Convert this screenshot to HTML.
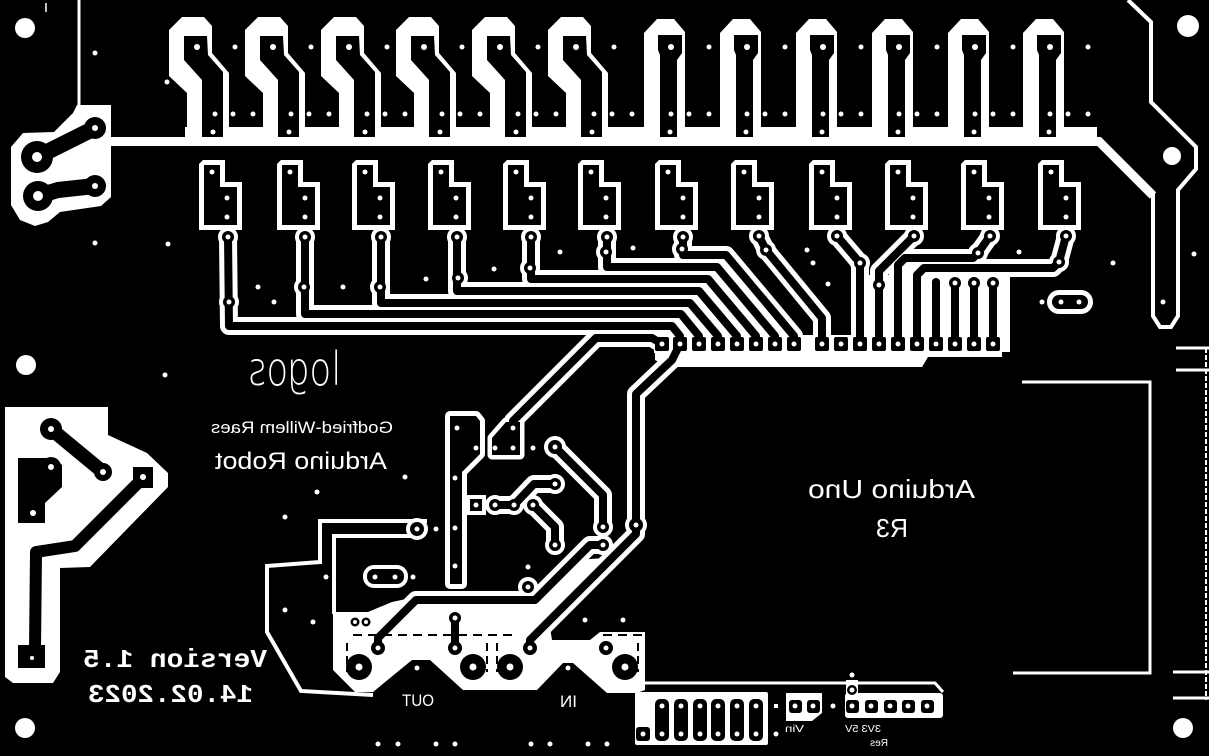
<!DOCTYPE html>
<html><head><meta charset="utf-8"><style>
html,body{margin:0;padding:0;background:#000;width:1209px;height:756px;overflow:hidden}
svg{display:block}
text{font-family:"Liberation Sans",Arial,sans-serif;fill:#fff}
.mono{font-family:"Liberation Mono","DejaVu Sans Mono",monospace;font-weight:bold}
</style></head><body>
<svg width="1209" height="756" viewBox="0 0 1209 756" xmlns="http://www.w3.org/2000/svg">
<defs>
<g id="tl">
<polygon fill="#fff" points="-28,30 -15,17 7,17 15,26 15,53 32,73 32,137 -10,137 -10,93 -28,76"/>
<polygon fill="#000" points="-13,36 10,36 11,55 26,72 26,137 5,137 5,80 -13,60"/>
<g fill="#fff"><circle cx="0" cy="47" r="3"/><circle cx="18" cy="114" r="2.5"/><circle cx="16" cy="132" r="2.5"/><circle cx="36" cy="114" r="2.5"/><circle cx="56" cy="114" r="2.5"/><circle cx="38" cy="47" r="2.5"/></g>
</g>
<g id="tr">
<polygon fill="#fff" points="-27,33 -14,19 3,19 14,32 14,137 -27,137"/>
<polygon fill="#000" points="-13,35 11,35 11,53 6,60 6,137 -11,137 -11,55 -13,50"/>
<g fill="#fff"><circle cx="0" cy="47" r="3"/><circle cx="0" cy="114" r="2.5"/><circle cx="-1" cy="132" r="2.5"/><circle cx="18" cy="114" r="2.5"/><circle cx="38" cy="114" r="2.5"/><circle cx="38" cy="47" r="2.5"/></g>
</g>
<g id="sm">
<polygon fill="#fff" points="-13,164 -9,160 13,160 13,182 30,182 30,230 -13,230"/>
<polygon fill="#000" points="-8,165 8,165 8,187 25,187 25,225 -8,225"/>
<g fill="#fff"><circle cx="0" cy="172" r="2.5"/><circle cx="15" cy="198" r="2.5"/><circle cx="15" cy="217" r="2.5"/></g>
</g>
<g id="trs" fill="none" stroke-linecap="round" stroke-linejoin="round">
<polyline points="228,237 229,326 672,326 680,336 680,344"/>
<polyline points="305,237 305,314 681,314 699,336 699,344"/>
<polyline points="381,237 381,303 690,303 718,336 718,344"/>
<polyline points="457,237 457,291 699,291 737,336 737,344"/>
<polyline points="531,237 531,279 708,279 756,336 756,344"/>
<polyline points="607,237 607,267 717,267 775,336 775,344"/>
<polyline points="683,237 683,255 726,255 794,336 794,344"/>
<polyline points="759,236 766,250 822,318 822,344"/>
<polyline points="837,236 860,263 860,344"/>
<polyline points="914,236 879,271 879,344"/>
<polyline points="990,236 978,253 973,258 905,258 898,265 898,344"/>
<polyline points="1066,236 1059,262 1053,268 924,268 917,275 917,344"/>
<polyline points="936,282 936,344"/>
<polyline points="955,283 955,344"/>
<polyline points="974,283 974,344"/>
<polyline points="993,283 993,344"/>
<polyline points="662,344 652,338 596,338 513,421 513,428"/>
<polyline points="680,344 672,360 636,394 636,525"/>
<polyline points="555,447 603,495 603,527"/>
<polyline points="378,648 378,638 416,600 535,600 575,560 590,545 603,545"/>
<polyline points="530,648 530,640 615,555 636,534 636,525"/>
<polyline points="533,505 555,527 555,544"/>
<polyline points="495,505 514,505 534,484 555,484"/>
<polyline points="455,618 455,648"/>
</g>
<g id="pds">
<circle cx="228" cy="237" r="6"/><circle cx="305" cy="237" r="6"/><circle cx="381" cy="237" r="6"/><circle cx="457" cy="237" r="6"/><circle cx="531" cy="237" r="6"/><circle cx="607" cy="237" r="6"/><circle cx="683" cy="237" r="6"/><circle cx="759" cy="236" r="6"/><circle cx="837" cy="236" r="6"/><circle cx="914" cy="236" r="6"/><circle cx="990" cy="236" r="6"/><circle cx="1066" cy="236" r="6"/>
<circle cx="229" cy="302" r="6"/><circle cx="304" cy="287" r="6"/><circle cx="380" cy="287" r="6"/><circle cx="458" cy="278" r="6"/><circle cx="530" cy="268" r="6"/><circle cx="606" cy="252" r="6"/><circle cx="682" cy="249" r="6"/><circle cx="766" cy="250" r="6"/><circle cx="860" cy="263" r="6"/><circle cx="879" cy="285" r="6"/><circle cx="978" cy="253" r="6"/><circle cx="1059" cy="262" r="6"/>
<circle cx="955" cy="283" r="6"/><circle cx="974" cy="283" r="6"/><circle cx="993" cy="283" r="6"/>
<circle cx="555" cy="447" r="7"/><circle cx="555" cy="484" r="6"/><circle cx="533" cy="505" r="6"/><circle cx="514" cy="505" r="6"/><circle cx="495" cy="505" r="6"/><circle cx="555" cy="545" r="6"/>
<circle cx="417" cy="529" r="7"/><circle cx="528" cy="587" r="6"/><circle cx="603" cy="527" r="6"/><circle cx="603" cy="545" r="6"/><circle cx="636" cy="525" r="7"/>
<circle cx="455" cy="618" r="6"/><circle cx="378" cy="648" r="7"/><circle cx="455" cy="648" r="7"/><circle cx="530" cy="648" r="7"/><circle cx="606" cy="648" r="7"/>
<circle cx="359" cy="667" r="13"/><circle cx="473" cy="667" r="13"/><circle cx="510" cy="667" r="13"/><circle cx="625" cy="667" r="13"/>
<circle cx="355" cy="622" r="4.5"/><circle cx="366" cy="622" r="4.5"/>
<rect x="470" y="499" width="12" height="12"/>
</g>
<polygon id="cpoly" points="450,416 476,416 480,421 480,454 462,472 462,584 450,584"/>
<polygon id="apoly" points="492,438 506,422 520,422 520,455 492,455"/>
</defs>

<rect width="1209" height="756" fill="#000"/>

<!-- ===== white areas ===== -->
<line x1="79" y1="0" x2="79" y2="108" stroke="#fff" stroke-width="3"/>
<line x1="46" y1="3" x2="46" y2="12" stroke="#fff" stroke-width="1.5"/>
<polygon fill="#fff" points="77,105 111,105 111,197 101,206 60,212 48,222 35,226 20,220 11,205 11,147 23,133 54,132 73,113"/>
<rect x="185" y="127" width="912" height="11" fill="#fff"/>
<use href="#tl" x="197"/><use href="#tl" x="273"/><use href="#tl" x="349"/><use href="#tl" x="424"/><use href="#tl" x="500"/><use href="#tl" x="576"/>
<use href="#tr" x="671"/><use href="#tr" x="747"/><use href="#tr" x="823"/><use href="#tr" x="899"/><use href="#tr" x="975"/><use href="#tr" x="1050"/>
<polyline points="105,141.5 1099,141.5 1153,195.5" fill="none" stroke="#fff" stroke-width="9"/>
<polyline points="1153,193 1153,316 1160,327 1171,327 1178,316 1178,190 1196,169 1196,147 1151,102 1151,22 1128,0" fill="none" stroke="#fff" stroke-width="4"/>
<use href="#sm" x="212"/><use href="#sm" x="290"/><use href="#sm" x="365"/><use href="#sm" x="441"/><use href="#sm" x="516"/><use href="#sm" x="591"/>
<use href="#sm" x="668"/><use href="#sm" x="744"/><use href="#sm" x="822"/><use href="#sm" x="898"/><use href="#sm" x="974"/><use href="#sm" x="1051"/>

<polygon fill="#fff" points="5,407 108,407 108,435 147,453 168,473 168,487 90,567 60,568 60,672 53,683 13,683 5,677"/>

<rect x="654" y="335" width="348" height="18" fill="#fff"/>
<polygon fill="#fff" points="655,352 1002,352 1002,357 928,357 922,367 668,367 655,360"/>
<rect x="903" y="262" width="107" height="90" fill="#fff"/>
<rect x="852" y="275" width="51" height="77" fill="#fff"/>

<rect x="1047" y="290" width="46" height="24" rx="12" fill="#fff"/>
<rect x="1052" y="295" width="36" height="14" rx="7" fill="#000"/>

<polygon fill="#fff" points="333,612 368,612 392,602 420,596 540,596 576,560 605,558 548,615 552,640 590,640 600,632 645,632 645,690 637,693 607,693 573,663 563,663 537,690 463,690 430,660 412,660 373,692 355,692 333,670"/>
<polyline points="427,521 320,521 320,562 267,566 267,632 301,691 373,695" fill="none" stroke="#fff" stroke-width="4"/>
<polyline points="418,536 334,536 334,614" fill="none" stroke="#fff" stroke-width="4"/>
<rect x="363" y="565" width="45" height="23" rx="11" fill="#fff"/>
<rect x="367" y="569" width="37" height="15" rx="7" fill="#000"/>

<polyline points="637,683 935,683 943,692" fill="none" stroke="#fff" stroke-width="3"/>
<rect x="635" y="692" width="133" height="53" rx="2" fill="#fff"/>
<polygon fill="#fff" points="786,693 822,693 822,713 812,721 786,721"/>
<rect x="845" y="693" width="98" height="25" rx="3" fill="#fff"/>
<rect x="846" y="680" width="12" height="15" fill="#fff"/>

<polyline points="1022,382 1150,382 1150,673 1013,673" fill="none" stroke="#fff" stroke-width="3"/>
<g stroke="#fff" stroke-width="3">
<line x1="1176" y1="348" x2="1209" y2="348"/><line x1="1176" y1="370" x2="1209" y2="370"/>
<line x1="1173" y1="672" x2="1209" y2="672"/><line x1="1173" y1="698" x2="1209" y2="698"/>
</g>
<line x1="1206" y1="348" x2="1206" y2="700" stroke="#fff" stroke-width="2" stroke-dasharray="5,2"/>

<!-- ===== halos ===== -->
<use href="#trs" stroke="#fff" stroke-width="18"/>
<use href="#cpoly" fill="#fff" stroke="#fff" stroke-width="10" stroke-linejoin="round"/>
<use href="#apoly" fill="#fff" stroke="#fff" stroke-width="9" stroke-linejoin="round"/>
<use href="#pds" fill="#fff" stroke="#fff" stroke-width="8"/>

<!-- ===== black copper ===== -->
<use href="#trs" stroke="#000" stroke-width="8"/>
<use href="#cpoly" fill="#000"/>
<use href="#apoly" fill="#000"/>
<use href="#pds" fill="#000"/>

<g fill="#000">
<rect x="655" y="337" width="14" height="14" rx="2"/><rect x="673" y="337" width="14" height="14" rx="2"/><rect x="692" y="337" width="14" height="14" rx="2"/><rect x="711" y="337" width="14" height="14" rx="2"/><rect x="730" y="337" width="14" height="14" rx="2"/><rect x="749" y="337" width="14" height="14" rx="2"/><rect x="768" y="337" width="14" height="14" rx="2"/><rect x="787" y="337" width="14" height="14" rx="2"/>
<rect x="815" y="337" width="14" height="14" rx="2"/><rect x="834" y="337" width="14" height="14" rx="2"/><rect x="853" y="337" width="14" height="14" rx="2"/><rect x="872" y="337" width="14" height="14" rx="2"/><rect x="891" y="337" width="14" height="14" rx="2"/><rect x="910" y="337" width="14" height="14" rx="2"/><rect x="929" y="337" width="14" height="14" rx="2"/><rect x="948" y="337" width="14" height="14" rx="2"/><rect x="967" y="337" width="14" height="14" rx="2"/><rect x="986" y="337" width="14" height="14" rx="2"/>
<!-- bottom header -->
<rect x="655" y="699" width="14" height="42" rx="5"/><rect x="674" y="699" width="14" height="42" rx="5"/><rect x="693" y="699" width="14" height="42" rx="5"/><rect x="711" y="699" width="14" height="42" rx="5"/><rect x="730" y="699" width="14" height="42" rx="5"/><rect x="749" y="699" width="14" height="42" rx="5"/>
<rect x="636" y="727" width="14" height="14" rx="3"/>
<rect x="789" y="700" width="13" height="13" rx="3"/><rect x="807" y="700" width="13" height="13" rx="3"/>
<rect x="846" y="700" width="13" height="13" rx="3"/><rect x="865" y="700" width="13" height="13" rx="3"/><rect x="884" y="700" width="13" height="13" rx="3"/><rect x="902" y="700" width="13" height="13" rx="3"/><rect x="921" y="700" width="13" height="13" rx="3"/>
<circle cx="852" cy="690" r="5"/>
<!-- top-left dogbones -->
<circle cx="37" cy="157" r="16"/><circle cx="95" cy="128" r="11"/>
<circle cx="38" cy="196" r="15"/><circle cx="95" cy="186" r="11"/>
<!-- lower-left -->
<circle cx="51" cy="429" r="11"/><circle cx="103" cy="472" r="9"/>
<polygon points="18,458 55,458 62,465 62,487 45,503 45,523 18,523"/>
<circle cx="51" cy="467" r="10"/>
<rect x="133" y="467" width="20" height="21"/>
<rect x="18" y="645" width="27" height="23"/>
</g>
<line x1="37" y1="157" x2="95" y2="128" stroke="#000" stroke-width="16" stroke-linecap="round"/>
<polyline points="38,196 58,190 95,186" fill="none" stroke="#000" stroke-width="16" stroke-linecap="round" stroke-linejoin="round"/>
<line x1="51" y1="429" x2="103" y2="472" stroke="#000" stroke-width="14" stroke-linecap="round"/>
<polyline points="143,478 75,546 36,552 35,650" fill="none" stroke="#000" stroke-width="12" stroke-linejoin="round"/>

<!-- silkscreen dashes on band -->
<g stroke="#000" stroke-width="2">
<line x1="353" y1="635" x2="517" y2="635" stroke-dasharray="9,6"/>
<line x1="603" y1="635" x2="643" y2="635" stroke-dasharray="9,6"/>
<line x1="347" y1="643" x2="347" y2="672" stroke-dasharray="8,5"/>
<line x1="487" y1="643" x2="487" y2="672" stroke-dasharray="8,5"/>
<line x1="497" y1="643" x2="497" y2="672" stroke-dasharray="8,5"/>
<line x1="638" y1="643" x2="638" y2="672" stroke-dasharray="8,5"/>
</g>

<!-- ===== drills & ground dots ===== -->
<g fill="#fff">
<circle cx="228" cy="237" r="2.5"/><circle cx="305" cy="237" r="2.5"/><circle cx="381" cy="237" r="2.5"/><circle cx="457" cy="237" r="2.5"/><circle cx="531" cy="237" r="2.5"/><circle cx="607" cy="237" r="2.5"/><circle cx="683" cy="237" r="2.5"/><circle cx="759" cy="236" r="2.5"/><circle cx="837" cy="236" r="2.5"/><circle cx="914" cy="236" r="2.5"/><circle cx="990" cy="236" r="2.5"/><circle cx="1066" cy="236" r="2.5"/>
<circle cx="229" cy="302" r="2.5"/><circle cx="304" cy="287" r="2.5"/><circle cx="380" cy="287" r="2.5"/><circle cx="458" cy="278" r="2.5"/><circle cx="530" cy="268" r="2.5"/><circle cx="606" cy="252" r="2.5"/><circle cx="682" cy="249" r="2.5"/><circle cx="766" cy="250" r="2.5"/><circle cx="860" cy="263" r="2.5"/><circle cx="879" cy="285" r="2.5"/><circle cx="978" cy="253" r="2.5"/><circle cx="1059" cy="262" r="2.5"/>
<circle cx="955" cy="283" r="2.5"/><circle cx="974" cy="283" r="2.5"/><circle cx="993" cy="283" r="2.5"/>
<circle cx="513" cy="428" r="2.5"/><circle cx="513" cy="448" r="2.5"/><circle cx="495" cy="448" r="2.5"/><circle cx="555" cy="447" r="2.5"/><circle cx="555" cy="484" r="2.5"/><circle cx="533" cy="505" r="2.5"/><circle cx="514" cy="505" r="2.5"/><circle cx="495" cy="505" r="2.5"/><circle cx="476" cy="505" r="2.5"/><circle cx="555" cy="545" r="2.5"/>
<circle cx="457" cy="428" r="2.5"/><circle cx="476" cy="448" r="2.5"/><circle cx="455" cy="478" r="2.5"/><circle cx="455" cy="528" r="2.5"/><circle cx="455" cy="566" r="2.5"/><circle cx="417" cy="529" r="2.5"/><circle cx="528" cy="587" r="2.5"/><circle cx="603" cy="527" r="2.5"/><circle cx="603" cy="545" r="2.5"/><circle cx="636" cy="525" r="2.5"/>
<circle cx="455" cy="618" r="2.5"/><circle cx="378" cy="648" r="2.5"/><circle cx="455" cy="648" r="2.5"/><circle cx="530" cy="648" r="2.5"/><circle cx="606" cy="648" r="2.5"/>
<circle cx="359" cy="667" r="3.5"/><circle cx="473" cy="667" r="3.5"/><circle cx="510" cy="667" r="3.5"/><circle cx="625" cy="667" r="3.5"/>
<circle cx="355" cy="622" r="2"/><circle cx="366" cy="622" r="2"/>
<circle cx="375" cy="577" r="2.5"/><circle cx="395" cy="577" r="2.5"/>
<circle cx="1061" cy="302" r="2.5"/><circle cx="1079" cy="302" r="2.5"/>
<circle cx="1163" cy="302" r="2.5"/>
<!-- header pins -->
<circle cx="662" cy="344" r="2.5"/><circle cx="680" cy="344" r="2.5"/><circle cx="699" cy="344" r="2.5"/><circle cx="718" cy="344" r="2.5"/><circle cx="737" cy="344" r="2.5"/><circle cx="756" cy="344" r="2.5"/><circle cx="775" cy="344" r="2.5"/><circle cx="794" cy="344" r="2.5"/>
<circle cx="822" cy="344" r="2.5"/><circle cx="841" cy="344" r="2.5"/><circle cx="860" cy="344" r="2.5"/><circle cx="879" cy="344" r="2.5"/><circle cx="898" cy="344" r="2.5"/><circle cx="917" cy="344" r="2.5"/><circle cx="936" cy="344" r="2.5"/><circle cx="955" cy="344" r="2.5"/><circle cx="974" cy="344" r="2.5"/><circle cx="993" cy="344" r="2.5"/>
<!-- bottom header -->
<circle cx="662" cy="706" r="2.5"/><circle cx="681" cy="706" r="2.5"/><circle cx="700" cy="706" r="2.5"/><circle cx="718" cy="706" r="2.5"/><circle cx="737" cy="706" r="2.5"/><circle cx="756" cy="706" r="2.5"/>
<circle cx="643" cy="734" r="2.5"/><circle cx="662" cy="734" r="2.5"/><circle cx="681" cy="734" r="2.5"/><circle cx="700" cy="734" r="2.5"/><circle cx="718" cy="734" r="2.5"/><circle cx="737" cy="734" r="2.5"/><circle cx="756" cy="734" r="2.5"/>
<circle cx="795" cy="706" r="2.5"/><circle cx="813" cy="706" r="2.5"/>
<circle cx="852" cy="706" r="2.5"/><circle cx="871" cy="706" r="2.5"/><circle cx="890" cy="706" r="2.5"/><circle cx="908" cy="706" r="2.5"/><circle cx="927" cy="706" r="2.5"/>
<circle cx="852" cy="690" r="2.5"/>
<rect x="774" y="704" width="4" height="4"/>
<!-- ground vias -->
<circle cx="95" cy="53" r="2.5"/><circle cx="167" cy="82" r="2.5"/><circle cx="95" cy="243" r="2.5"/><circle cx="168" cy="244" r="2.5"/>
<circle cx="258" cy="287" r="2.5"/><circle cx="274" cy="302" r="2.5"/><circle cx="343" cy="287" r="2.5"/><circle cx="426" cy="279" r="2.5"/><circle cx="494" cy="269" r="2.5"/><circle cx="560" cy="252" r="2.5"/><circle cx="633" cy="248" r="2.5"/>
<circle cx="807" cy="250" r="2.5"/><circle cx="813" cy="263" r="2.5"/><circle cx="828" cy="284" r="2.5"/><circle cx="1019" cy="252" r="2.5"/><circle cx="1042" cy="302" r="2.5"/><circle cx="1113" cy="263" r="2.5"/><circle cx="1194" cy="254" r="2.5"/>
<circle cx="165" cy="375" r="2.5"/><circle cx="405" cy="477" r="2.5"/><circle cx="317" cy="492" r="2.5"/><circle cx="285" cy="517" r="2.5"/><circle cx="326" cy="577" r="2.5"/><circle cx="285" cy="610" r="2.5"/><circle cx="313" cy="622" r="2.5"/>
<circle cx="533" cy="448" r="2.5"/><circle cx="436" cy="529" r="2.5"/><circle cx="413" cy="577" r="2.5"/><circle cx="528" cy="567" r="2.5"/><circle cx="585" cy="620" r="2.5"/><circle cx="623" cy="620" r="2.5"/>
<circle cx="417" cy="668" r="2.5"/><circle cx="568" cy="668" r="2.5"/>
<circle cx="378" cy="744" r="2.5"/><circle cx="398" cy="744" r="2.5"/><circle cx="436" cy="744" r="2.5"/><circle cx="455" cy="744" r="2.5"/><circle cx="531" cy="744" r="2.5"/><circle cx="550" cy="744" r="2.5"/><circle cx="588" cy="744" r="2.5"/><circle cx="607" cy="744" r="2.5"/>
<circle cx="852" cy="675" r="2.5"/><circle cx="776" cy="734" r="2.5"/><circle cx="833" cy="706" r="2.5"/>
<!-- dogbone drills -->
<circle cx="37" cy="157" r="5"/><circle cx="95" cy="128" r="3"/><circle cx="38" cy="196" r="5"/><circle cx="95" cy="186" r="3"/>
<circle cx="51" cy="429" r="3"/><circle cx="103" cy="472" r="3"/><circle cx="51" cy="467" r="3"/><circle cx="33" cy="513" r="3"/><circle cx="143" cy="477" r="3"/><circle cx="32" cy="658" r="2"/>
<!-- mounting holes -->
<circle cx="25" cy="28" r="10"/><circle cx="1188" cy="26" r="11"/><circle cx="1172" cy="156" r="9"/>
<circle cx="26" cy="365" r="10"/><circle cx="25" cy="728" r="10"/><circle cx="1183" cy="728" r="10"/>
</g>

<!-- ===== mirrored text ===== -->
<text transform="scale(-1,1)" x="-341" y="385" font-size="46" textLength="93" lengthAdjust="spacingAndGlyphs" style="font-family:'DejaVu Sans','Liberation Sans',sans-serif;font-weight:200">logos</text>
<text transform="scale(-1,1)" x="-393" y="433" font-size="17" textLength="182" lengthAdjust="spacingAndGlyphs">Godfried-Willem Raes</text>
<text transform="scale(-1,1)" x="-387" y="469" font-size="24" textLength="172" lengthAdjust="spacingAndGlyphs">Arduino Robot</text>
<text class="mono" transform="scale(-1,1)" x="-267" y="667" font-size="26" textLength="184" lengthAdjust="spacingAndGlyphs">Version 1.5</text>
<text class="mono" transform="scale(-1,1)" x="-253" y="702" font-size="26" textLength="165" lengthAdjust="spacingAndGlyphs">14.02.2023</text>
<text transform="scale(-1,1)" x="-975" y="498" font-size="26" textLength="167" lengthAdjust="spacingAndGlyphs">Arduino Uno</text>
<text transform="scale(-1,1)" x="-908" y="537" font-size="26" textLength="32" lengthAdjust="spacingAndGlyphs">R3</text>
<text transform="scale(-1,1)" x="-434" y="706" font-size="17" textLength="32" lengthAdjust="spacingAndGlyphs">OUT</text>
<text transform="scale(-1,1)" x="-577" y="707" font-size="17" textLength="17" lengthAdjust="spacingAndGlyphs">IN</text>
<text transform="scale(-1,1)" x="-804" y="732" font-size="10" textLength="19" lengthAdjust="spacingAndGlyphs">Vin</text>
<text transform="scale(-1,1)" x="-881" y="732" font-size="10" textLength="36" lengthAdjust="spacingAndGlyphs">3V3 5V</text>
<text transform="scale(-1,1)" x="-888" y="746" font-size="10" textLength="18" lengthAdjust="spacingAndGlyphs">Res</text>
</svg>
</body></html>
